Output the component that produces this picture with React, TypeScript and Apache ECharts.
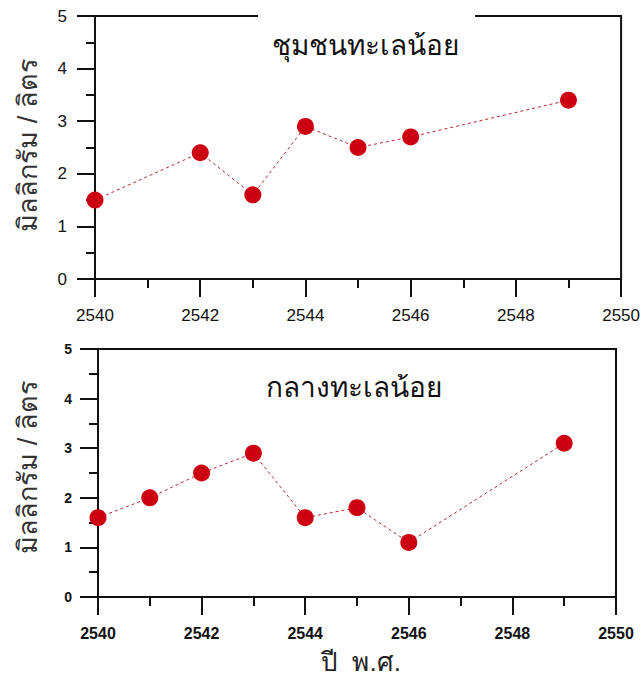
import React, { useEffect, useRef } from "react";
import * as echarts from "echarts";

const topYears = [2540, 2542, 2543, 2544, 2545, 2546, 2549];
const topValues = [1.5, 2.4, 1.6, 2.9, 2.5, 2.7, 3.4];
const bottomYears = [2540, 2541, 2542, 2543, 2544, 2545, 2546, 2549];
const bottomValues = [1.6, 2.0, 2.5, 2.9, 1.6, 1.8, 1.1, 3.1];
const topTitle = "ชุมชนทะเลน้อย";
const bottomTitle = "กลางทะเลน้อย";
const yTitle = "มิลลิกรัม / ลิตร";
const xTitle = "ปี  พ.ศ.";

const tickFont = "Arial, 'Liberation Sans', sans-serif";
const axisColor = "#111";

function xAxisCfg(gridIndex: number, fontSize: number, fontWeight: string, margin: number) {
  return {
    type: "value",
    gridIndex,
    min: 2540,
    max: 2550,
    interval: 2,
    axisLine: { show: true, onZero: false, lineStyle: { color: axisColor, width: 2 } },
    axisTick: { show: true, inside: false, length: 18, lineStyle: { color: axisColor, width: 2 } },
    minorTick: { show: true, splitNumber: 2, length: 9, lineStyle: { color: axisColor, width: 2 } },
    splitLine: { show: false },
    minorSplitLine: { show: false },
    axisLabel: {
      fontFamily: tickFont,
      fontWeight,
      fontSize,
      color: "#111",
      margin,
      formatter: (v: number) => String(v),
    },
  };
}

function yAxisCfg(gridIndex: number, fontSize: number, fontWeight: string, margin: number) {
  return {
    type: "value",
    gridIndex,
    min: 0,
    max: 5,
    interval: 1,
    axisLine: { show: true, onZero: false, lineStyle: { color: axisColor, width: 2 } },
    axisTick: { show: true, inside: false, length: 18, lineStyle: { color: axisColor, width: 2 } },
    minorTick: { show: true, splitNumber: 2, length: 9, lineStyle: { color: axisColor, width: 2 } },
    splitLine: { show: false },
    minorSplitLine: { show: false },
    axisLabel: { fontFamily: tickFont, fontWeight, fontSize, color: "#111", margin },
  };
}

function seriesCfg(idx: number, years: number[], values: number[]) {
  return {
    type: "line",
    xAxisIndex: idx,
    yAxisIndex: idx,
    data: years.map((y, i) => [y, values[i]]),
    symbol: "circle",
    symbolSize: 17,
    itemStyle: { color: "#cc0010" },
    lineStyle: { color: "#b8262e", width: 1, type: [3, 3] },
    z: 3,
  };
}

export default function App() {
  const ref = useRef<HTMLDivElement>(null);
  useEffect(() => {
    if (!ref.current) return;
    const chart = echarts.init(ref.current, undefined, { renderer: "svg" });
    chart.setOption({
      animation: false,
      backgroundColor: "#fff",
      grid: [
        { left: 95, top: 16, right: 21, height: 263, show: true, borderColor: axisColor, borderWidth: 2, backgroundColor: "transparent" },
        { left: 98, top: 349, right: 27, height: 248, show: true, borderColor: axisColor, borderWidth: 2, backgroundColor: "transparent" },
      ],
      xAxis: [xAxisCfg(0, 17, "normal", 28), xAxisCfg(1, 16, "bold", 28)],
      yAxis: [yAxisCfg(0, 17, "normal", 28), yAxisCfg(1, 14, "bold", 26)],
      series: [seriesCfg(0, topYears, topValues), seriesCfg(1, bottomYears, bottomValues)],
      graphic: [
        { type: "rect", shape: { x: 258, y: 12, width: 217, height: 8 }, style: { fill: "#fff" }, z: 10 },
        { type: "text", x: 365, y: 45, z: 11, style: { text: topTitle, fontSize: 28, fill: "#111", align: "center", verticalAlign: "middle", fontFamily: "sans-serif" } },
        { type: "text", x: 354, y: 387, z: 11, style: { text: bottomTitle, fontSize: 28, fill: "#111", align: "center", verticalAlign: "middle", fontFamily: "sans-serif" } },
        { type: "text", x: 28, y: 145, rotation: Math.PI / 2, z: 11, style: { text: yTitle, fontSize: 27, fill: "#333", align: "center", verticalAlign: "middle", fontFamily: "sans-serif" } },
        { type: "text", x: 28, y: 467, rotation: Math.PI / 2, z: 11, style: { text: yTitle, fontSize: 27, fill: "#333", align: "center", verticalAlign: "middle", fontFamily: "sans-serif" } },
        { type: "text", x: 361, y: 662, z: 11, style: { text: xTitle, fontSize: 26, fill: "#222", align: "center", verticalAlign: "middle", fontFamily: "sans-serif" } },
      ],
    });
    return () => chart.dispose();
  }, []);
  return <div ref={ref} style={{ position: "fixed", left: 0, top: 0, width: 643, height: 688 }} />;
}
